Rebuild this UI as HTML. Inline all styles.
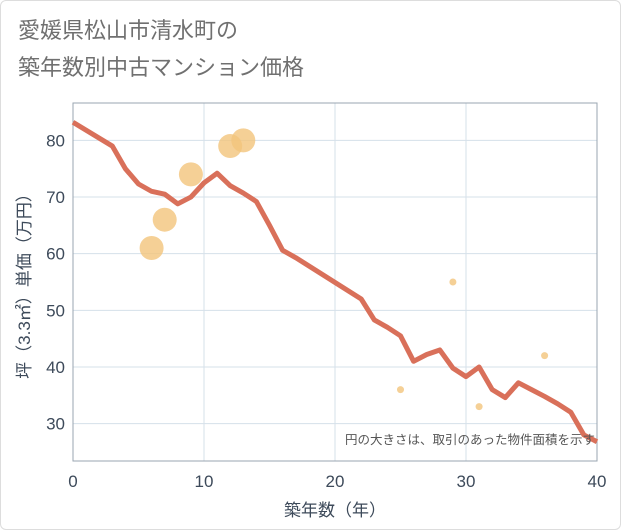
<!DOCTYPE html>
<html><head><meta charset="utf-8"><style>
body{margin:0;background:#fff;}
#wrap{position:relative;width:621px;height:530px;overflow:hidden;background:#fff;font-family:"Liberation Sans","Noto Sans CJK JP",sans-serif;}
.title{position:absolute;left:18px;font-size:22px;color:#707070;line-height:30px;}
</style></head><body>
<div id="wrap">
<div style="position:absolute;inset:0;border:1px solid #ddd;border-radius:6px;box-sizing:border-box"></div>
<div class="title" style="top:16px">愛媛県松山市清水町の</div>
<div class="title" style="top:53px">築年数別中古マンション価格</div>
<svg id="chart" width="621" height="530" style="position:absolute;left:0;top:0"></svg>
</div>
<script>
const lineX=[0,3,4,5,6,7,8,9,10,11,12,13,14,15,16,17,22,23,24,25,26,27,28,29,30,31,32,33,34,35,36,37,38,39,40];
const lineY=[83.2,79,75,72.3,71,70.5,68.8,70,72.5,74.2,72,70.7,69.2,65,60.6,59.3,52,48.3,47,45.5,41,42.2,43,39.8,38.3,40,36,34.6,37.2,36,34.8,33.5,32,28,26.8];
const ptX=[6,7,9,12,13,25,29,31,36];
const ptY=[61,66,74,79,80,36,55,33,42];
const ptR=[12,12,12,12,12,3.5,3.5,3.5,3.5];
const xTicks=[0,10,20,30,40];
const yTicks=[30,40,50,60,70,80];
const L=73,R=597,T=103,B=461,xMin=0,xMax=40,yMin=23.4,yMax=86.6;
const sx=v=>L+(v-xMin)/(xMax-xMin)*(R-L);
const sy=v=>B-(v-yMin)/(yMax-yMin)*(B-T);
const svg=document.getElementById('chart');
const NS='http://www.w3.org/2000/svg';
function mk(t,a){const e=document.createElementNS(NS,t);for(const k in a)e.setAttribute(k,a[k]);svg.appendChild(e);return e;}
const bg=mk('rect',{x:L,y:T,width:R-L,height:B-T,fill:'#fff'});


xTicks.forEach(v=>{
 const g=mk('line',{x1:sx(v),x2:sx(v),y1:T,y2:B,stroke:'#d5e0ea','stroke-width':1});
 
 
 const t=mk('text',{x:sx(v),y:B+26,'text-anchor':'middle','font-size':17,fill:'#3d4a5a'});
 t.textContent=v;
 
 
});
yTicks.forEach(v=>{
 const g=mk('line',{x1:L,x2:R,y1:sy(v),y2:sy(v),stroke:'#d5e0ea','stroke-width':1});
 
 
 const t=mk('text',{x:L-8,y:sy(v)+6,'text-anchor':'end','font-size':17,fill:'#3d4a5a'});
 t.textContent=v;
 
 
});
const fr=mk('rect',{x:L,y:T,width:R-L,height:B-T,fill:'none',stroke:'#9aa5b0','stroke-width':1});


ptX.forEach((x,i)=>{
 const c=mk('circle',{cx:sx(x),cy:sy(ptY[i]),r:ptR[i],fill:'#f3c47c','fill-opacity':0.8});
 
 
});
const ln=mk('polyline',{points:lineX.map((x,i)=>sx(x)+','+sy(lineY[i])).join(' '),fill:'none',stroke:'#d9705a','stroke-width':5,'stroke-linejoin':'round'});


const note=mk('text',{x:R-2,y:B-17,'text-anchor':'end','font-size':12.5,fill:'#555'});
note.textContent='円の大きさは、取引のあった物件面積を示す';


const xt=mk('text',{x:(L+R)/2,y:B+55,'text-anchor':'middle','font-size':17,fill:'#3d4a5a'});
xt.textContent='築年数（年）';


const yt=mk('text',{x:0,y:0,'text-anchor':'middle','font-size':17,fill:'#3d4a5a',transform:'translate(30,'+((T+B)/2)+') rotate(-90)'});
yt.textContent='坪（3.3㎡）単価（万円）';


</script>
</body></html>
